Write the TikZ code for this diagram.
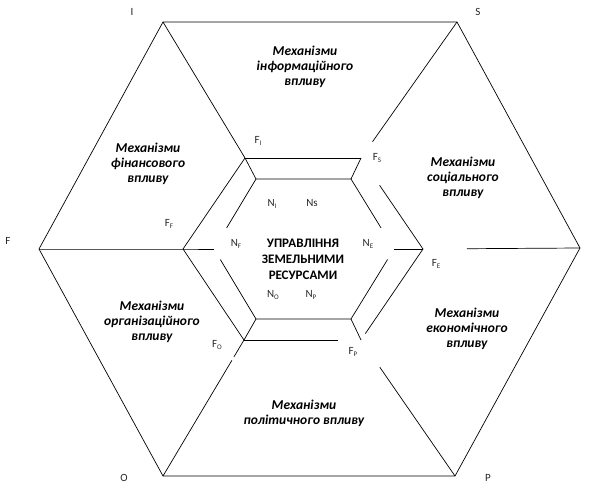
\documentclass[tikz,border=0pt]{standalone}
\usepackage{fontspec}
\setmainfont{Carlito}
\usetikzlibrary{calc}

\newcommand{\lblsub}[2]{#1\raisebox{-0.35ex}{\fontsize{7}{8}\selectfont #2}}

\begin{document}
\begin{tikzpicture}[
  x=1pt, y=-1pt,
  edge/.style={line width=0.7pt},
  mech/.style={font=\fontsize{13.5}{15}\selectfont\bfseries\itshape,
    align=center, inner sep=0pt},
  core/.style={font=\fontsize{13}{16}\selectfont\bfseries,
    align=center, inner sep=0pt},
  tag/.style={font=\fontsize{11}{12}\selectfont, text=black!85,
    inner sep=0pt},
]
\useasboundingbox (0,0) rectangle (599,484);

% outer hexagon
\coordinate (I) at (163,22);
\coordinate (S) at (457,22);
\coordinate (E) at (580,248);
\coordinate (P) at (455,476);
\coordinate (O) at (163,476);
\coordinate (F) at (39,249);
% middle hexagon
\coordinate (mI) at (245,158);
\coordinate (mS) at (361,158);
\coordinate (mE) at (423,249);
\coordinate (mP) at (361,340);
\coordinate (mO) at (244,340);
\coordinate (mF) at (183,249);
% inner hexagon
\coordinate (nI) at (256,179);
\coordinate (nS) at (351,179);
\coordinate (nE) at (394,249);
\coordinate (nP) at (351,319);
\coordinate (nO) at (256,319);
\coordinate (nF) at (214,249);

\draw[edge] (I) -- (S) -- (E) -- (P) -- (O) -- (F) -- cycle;

% spokes
\draw[edge] (I) -- (mI) -- (nI);
\draw[edge] (S) -- ($(S)!0.88!(mS)$);
\draw[edge] (mS) -- (nS);
\draw[edge] (E) -- ($(E)!0.72!(mE)$);
\draw[edge] (mE) -- (nE);
\draw[edge] (P) -- ($(P)!0.80!(mP)$);
\draw[edge] (mP) -- (nP);
\draw[edge] (O) -- ($(O)!0.85!(mO)$);
\draw[edge] ($(O)!0.875!(mO)$) -- (mO) -- (nO);
\draw[edge] (F) -- (mF) -- (nF);

% middle hexagon sides
\draw[edge] (mI) -- (mS);
\draw[edge] ($(mS)!0.30!(mE)$) -- (mE) -- ($(mE)!0.93!(mP)$);
\draw[edge] (mO) -- ($(mO)!0.80!(mP)$);
\draw[edge] (mO) -- (mF) -- (mI);

% inner hexagon sides
\draw[edge] ($(nF)!0.30!(nI)$) -- (nI) -- (nS) -- ($(nS)!0.70!(nE)$);
\draw[edge] ($(nE)!0.15!(nP)$) -- (nP) -- (nO) -- ($(nO)!0.85!(nF)$);

% vertex labels
\node[tag] (tI) at (132,12) {I};
\node[tag] (tS) at (478,12) {S};
\node[tag] (tF) at (8,241) {F};
\node[tag] (tO) at (124,478) {O};
\node[tag] (tP) at (488,478) {P};

% sector labels
\node[mech] (kI) at (305,67) {Механізми\\інформаційного\\впливу};
\node[mech] (kF) at (148,164) {Механізми\\фінансового\\впливу};
\node[mech] (kS) at (463,178) {Механізми\\соціального\\впливу};
\node[mech] (kO) at (152,322) {Механізми\\організаційного\\впливу};
\node[mech] (kE) at (467,329) {Механізми\\економічного\\впливу};
\node[mech] (kP) at (304,413) {Механізми\\політичного впливу};

% centre
\node[core] (core) at (303,259) {УПРАВЛІННЯ\\ЗЕМЕЛЬНИМИ\\РЕСУРСАМИ};

% factors
\node[tag] (fI) at (258,141) {\lblsub{F}{I}};
\node[tag] (fS) at (377,158) {\lblsub{F}{S}};
\node[tag] (fF) at (169,224) {\lblsub{F}{F}};
\node[tag] (fE) at (436,264) {\lblsub{F}{E}};
\node[tag] (fO) at (217,345) {\lblsub{F}{O}};
\node[tag] (fP) at (353,352) {\lblsub{F}{P}};

% needs
\node[tag] (nnI) at (272,204) {\lblsub{N}{I}};
\node[tag] (nnS) at (312,203) {Ns};
\node[tag] (nnF) at (236,244) {\lblsub{N}{F}};
\node[tag] (nnE) at (368,244) {\lblsub{N}{E}};
\node[tag] (nnO) at (273,295) {\lblsub{N}{O}};
\node[tag] (nnP) at (311,295) {\lblsub{N}{P}};
\end{tikzpicture}
\end{document}
